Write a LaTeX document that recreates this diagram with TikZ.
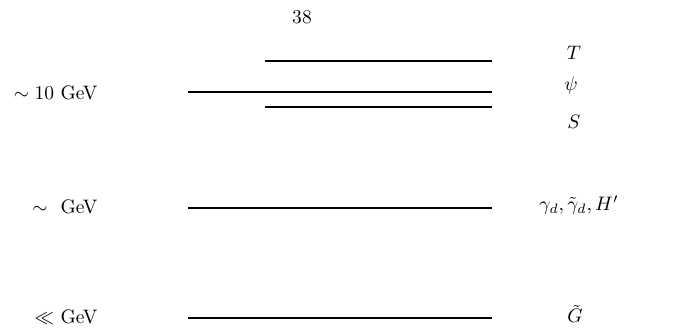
\documentclass[tikz,border=0pt]{standalone}
\usepackage{amsmath,amssymb}
\usetikzlibrary{positioning}
\begin{document}
\begin{tikzpicture}[x=0.018cm, y=-0.018cm, level/.style={line width=1.1pt}, every node/.style={inner sep=0pt}]
  \useasboundingbox (0,0) rectangle (675,333);
  \node (page) at (302,17) {38};
  % ~10 GeV states
  \coordinate (tl) at (265,61);  \coordinate (tr) at (492,61);
  \coordinate (pl) at (188,92);  \coordinate (pr) at (492,92);
  \coordinate (sl) at (265,107); \coordinate (sr) at (492,107);
  \draw[level] (tl) -- (tr); \draw[level] (pl) -- (pr); \draw[level] (sl) -- (sr);
  \node[anchor=east] (heavy) at (98,93) {$\sim 10$ GeV};
  \node (T) at (574,53) {$T$};
  \node (psi) at (571,86) {$\psi$};
  \node (S) at (574,122) {$S$};
  % ~GeV states
  \coordinate (gl) at (188,208); \coordinate (gr) at (492,208);
  \draw[level] (gl) -- (gr);
  \node[anchor=east] (mid) at (98,207) {$\sim$ ~GeV};
  \node (dark) at (579,205) {$\gamma_d, \tilde{\gamma}_d, H'$};
  % light states
  \coordinate (ll) at (188,318); \coordinate (lr) at (492,318);
  \draw[level] (ll) -- (lr);
  \node[anchor=east] (light) at (98,317) {$\ll$ GeV};
  \node (G) at (575,314) {$\tilde{G}$};
\end{tikzpicture}
\end{document}
